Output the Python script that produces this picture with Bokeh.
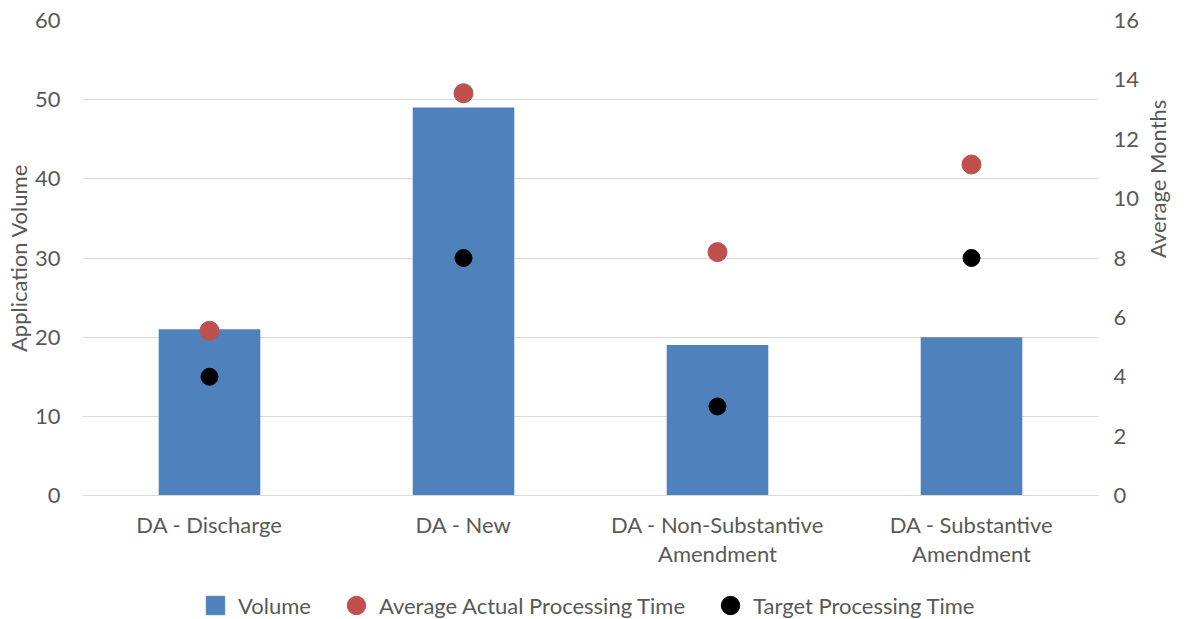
import math
from bokeh.plotting import figure
from bokeh.layouts import column
from bokeh.models import (ColumnDataSource, Range1d, LinearAxis, FactorRange,
                          Legend, LegendItem, SingleIntervalTicker)
from bokeh.embed import file_html
from bokeh.resources import INLINE

categories = ["DA - Discharge", "DA - New", "DA - Non-Substantive\nAmendment", "DA - Substantive\nAmendment"]
volume = [21, 49, 19, 20]
avg_actual_months = [5.55, 13.55, 8.2, 11.15]
target_months = [4, 8, 3, 8]
series_names = ["Volume", "Average Actual Processing Time", "Target Processing Time"]

FONT = "Lato"
TXT = "#595959"
FS = "22px"
BLUE, RED, BLACK = "#4f81bd", "#c0504d", "#000000"

src = ColumnDataSource(dict(cat=categories, vol=volume, act=avg_actual_months, tgt=target_months))

p = figure(width=1188, height=572, x_range=FactorRange(*categories), y_range=Range1d(0, 60),
           output_backend="svg", toolbar_location=None,
           min_border_left=82, min_border_right=90, min_border_top=20, min_border_bottom=77)
p.extra_y_ranges = {"months": Range1d(0, 16)}
p.outline_line_color = None
p.background_fill_color = "white"
p.border_fill_color = "white"

p.vbar(x="cat", top="vol", width=0.4, source=src, fill_color=BLUE, line_color=None)
p.scatter(x="cat", y="act", source=src, y_range_name="months", size=19,
          fill_color=RED, line_color=RED, marker="circle")
p.scatter(x="cat", y="tgt", source=src, y_range_name="months", size=17,
          fill_color=BLACK, line_color=BLACK, marker="circle")

# left axis
yl = p.yaxis[0]
yl.ticker = SingleIntervalTicker(interval=10)
yl.axis_line_color = None
yl.major_tick_line_color = None
yl.minor_tick_line_color = None
yl.major_tick_out = 0
yl.major_tick_in = 0
yl.minor_tick_out = 0
yl.major_label_text_font = FONT
yl.major_label_text_font_size = FS
yl.major_label_text_color = TXT
yl.major_label_standoff = 22
yl.axis_label = "Application Volume"
yl.axis_label_text_font = FONT
yl.axis_label_text_font_size = FS
yl.axis_label_text_font_style = "normal"
yl.axis_label_text_color = TXT
yl.axis_label_standoff = 0

# right axis
yr = LinearAxis(y_range_name="months", ticker=SingleIntervalTicker(interval=2))
yr.axis_line_color = None
yr.major_tick_line_color = None
yr.minor_tick_line_color = None
yr.major_tick_out = 0
yr.major_tick_in = 0
yr.minor_tick_out = 0
yr.major_label_text_font = FONT
yr.major_label_text_font_size = FS
yr.major_label_text_color = TXT
yr.major_label_standoff = 15
yr.axis_label = "Average Months"
yr.axis_label_orientation = math.pi / 2
yr.axis_label_text_font = FONT
yr.axis_label_text_font_size = FS
yr.axis_label_text_font_style = "normal"
yr.axis_label_text_color = TXT
yr.axis_label_standoff = 15
p.add_layout(yr, "right")

# x axis
xa = p.xaxis[0]
xa.axis_line_color = "#d9d9d9"
xa.major_tick_line_color = None
xa.minor_tick_line_color = None
xa.major_tick_out = 0
xa.major_tick_in = 0
xa.major_label_text_font = FONT
xa.major_label_text_font_size = FS
xa.major_label_text_color = TXT
xa.major_label_standoff = 15
xa.major_label_text_line_height = 1.08

p.xgrid.grid_line_color = None
p.ygrid.grid_line_color = "#d9d9d9"
p.ygrid.grid_line_width = 1

# legend strip (its glyphs are drawn outside the strip's visible range)
lg = figure(width=1188, height=47, x_range=FactorRange(*categories), y_range=Range1d(1000, 1001),
            output_backend="svg", toolbar_location=None,
            min_border_left=82, min_border_right=90, min_border_top=0, min_border_bottom=0)
lg.axis.visible = False
lg.grid.visible = False
lg.outline_line_color = None
r_vol = lg.scatter(x="cat", y="vol", source=src, size=15, fill_color=BLUE, line_color=BLUE, marker="square")
r_act = lg.scatter(x="cat", y="act", source=src, size=19, fill_color=RED, line_color=RED, marker="circle")
r_tgt = lg.scatter(x="cat", y="tgt", source=src, size=17, fill_color=BLACK, line_color=BLACK, marker="circle")

legend = Legend(items=[LegendItem(label=series_names[0], renderers=[r_vol]),
                       LegendItem(label=series_names[1], renderers=[r_act]),
                       LegendItem(label=series_names[2], renderers=[r_tgt])],
                orientation="horizontal", location=(110, -9),
                label_text_font=FONT, label_text_font_size=FS, label_text_color=TXT,
                glyph_width=46, glyph_height=46, label_standoff=0, spacing=22,
                border_line_color=None, background_fill_alpha=0, padding=0, margin=0)
lg.add_layout(legend, "center")

open("out.html", "w").write(file_html(column(p, lg, spacing=0), INLINE))
